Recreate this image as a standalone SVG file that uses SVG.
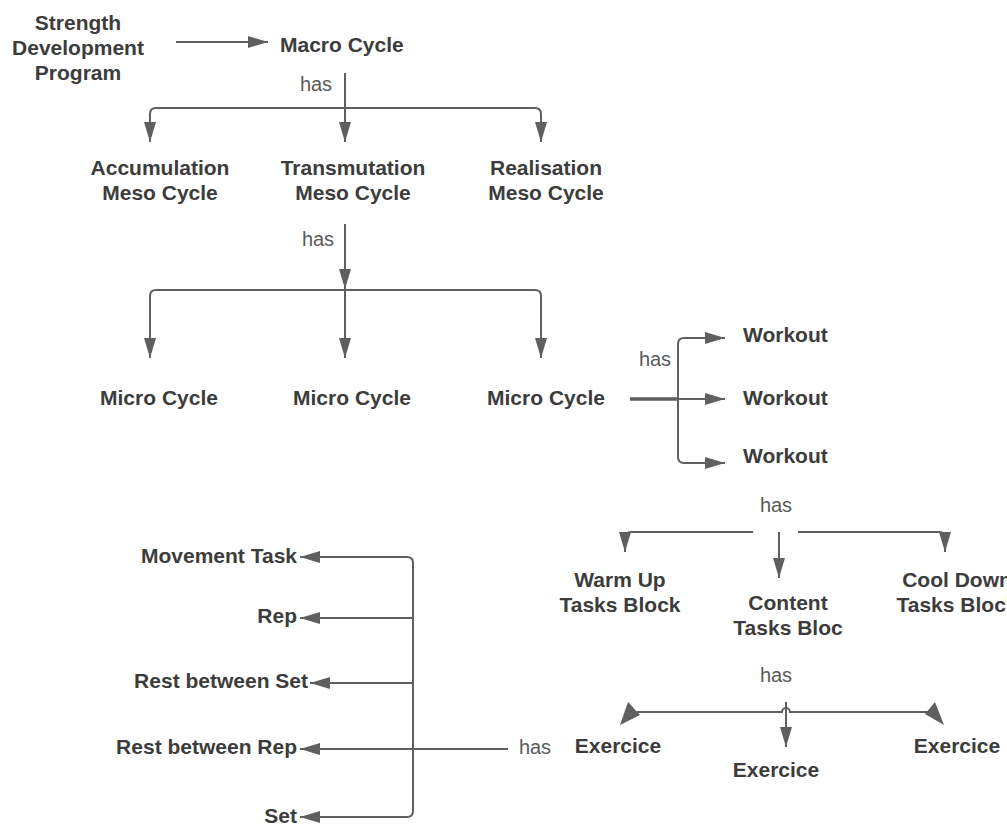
<svg xmlns="http://www.w3.org/2000/svg" width="1007" height="825" viewBox="0 0 1007 825">
<style>
.n{font-family:"Liberation Sans",Arial,sans-serif;font-weight:bold;font-size:21px;fill:#3c3c3c;text-anchor:middle}
.r{text-anchor:end}
.l{text-anchor:start}
.h{font-family:"Liberation Sans",Arial,sans-serif;font-size:20px;fill:#5a5a5a;text-anchor:middle}
.c{fill:none;stroke:#5f5f5f;stroke-width:2}
.a{marker-end:url(#ah)}
.tk{stroke-width:3.5}
</style>
<defs>
<marker id="ah" markerUnits="userSpaceOnUse" markerWidth="20" markerHeight="12" refX="20" refY="6" orient="auto">
<path d="M0,0 L20,6 L0,12 z" fill="#5f5f5f"/>
</marker>
</defs>
<rect width="1007" height="825" fill="#ffffff"/>
<g id="connectors">
<path class="c a" d="M176,42 H268"/>
<path class="c a" d="M345,73 V142"/>
<path class="c a" d="M345,108 H156 Q150,108 150,114 V142"/>
<path class="c a" d="M345,108 H535 Q541,108 541,114 V142"/>
<path class="c a" d="M345,224 V289"/>
<path class="c a" d="M345,290 V358"/>
<path class="c a" d="M345,290 H156 Q150,290 150,296 V358"/>
<path class="c a" d="M345,290 H535 Q541,290 541,296 V358"/>
<path class="c tk" d="M630,399 H678"/>
<path class="c a" d="M678,399 H725"/>
<path class="c a" d="M678,399 V344 Q678,338 684,338 H725"/>
<path class="c a" d="M678,399 V457 Q678,463 684,463 H725"/>
<path class="c a" d="M753,532 H631 Q625,532 625,538 V552"/>
<path class="c a" d="M779,532 V578"/>
<path class="c a" d="M798,532 H939 Q945,532 945,538 V552"/>
<path class="c" d="M637,712 H782 a4,4 0 0 1 8,0 H928"/>
<polygon points="628,702 640,715 620,725" fill="#5f5f5f"/>
<polygon points="935,702 925,714 944,725" fill="#5f5f5f"/>
<path class="c a" d="M786,702 V747"/>
<path class="c" d="M508,749 H413"/>
<path class="c" d="M413,563 V811"/>
<path class="c a" d="M413,563 Q413,557 407,557 H300"/>
<path class="c a" d="M413,618 H300"/>
<path class="c a" d="M413,683 H310"/>
<path class="c a" d="M413,749 H300"/>
<path class="c a" d="M413,811 Q413,817 407,817 H300"/>
</g>
<g id="labels">
<text class="h" x="316" y="91">has</text>
<text class="h" x="318" y="246">has</text>
<text class="h" x="655" y="366">has</text>
<text class="h" x="776" y="512">has</text>
<text class="h" x="776" y="682">has</text>
<text class="h" x="535" y="754">has</text>
</g>
<g id="strength"><text class="n" x="78" y="30">Strength</text><text class="n" x="78" y="55">Development</text><text class="n" x="78" y="80">Program</text></g>
<g id="macro"><text class="n l" x="280" y="52">Macro Cycle</text></g>
<g id="accumulation"><text class="n" x="160" y="175">Accumulation</text><text class="n" x="160" y="200">Meso Cycle</text></g>
<g id="transmutation"><text class="n" x="353" y="175">Transmutation</text><text class="n" x="353" y="200">Meso Cycle</text></g>
<g id="realisation"><text class="n" x="546" y="175">Realisation</text><text class="n" x="546" y="200">Meso Cycle</text></g>
<g id="micro1"><text class="n" x="159" y="405">Micro Cycle</text></g>
<g id="micro2"><text class="n" x="352" y="405">Micro Cycle</text></g>
<g id="micro3"><text class="n" x="546" y="405">Micro Cycle</text></g>
<g id="workout1"><text class="n l" x="743" y="342">Workout</text></g>
<g id="workout2"><text class="n l" x="743" y="405">Workout</text></g>
<g id="workout3"><text class="n l" x="743" y="463">Workout</text></g>
<g id="warmup"><text class="n" x="620" y="587">Warm Up</text><text class="n" x="620" y="612">Tasks Block</text></g>
<g id="content"><text class="n" x="788" y="610">Content</text><text class="n" x="788" y="635">Tasks Bloc</text></g>
<g id="cooldown"><text class="n" x="957" y="587">Cool Down</text><text class="n" x="957" y="612">Tasks Block</text></g>
<g id="exercice1"><text class="n" x="618" y="753">Exercice</text></g>
<g id="exercice2"><text class="n" x="776" y="777">Exercice</text></g>
<g id="exercice3"><text class="n" x="957" y="753">Exercice</text></g>
<g id="movement"><text class="n r" x="297" y="563">Movement Task</text></g>
<g id="rep"><text class="n r" x="297" y="623">Rep</text></g>
<g id="restset"><text class="n r" x="308" y="688">Rest between Set</text></g>
<g id="restrep"><text class="n r" x="297" y="754">Rest between Rep</text></g>
<g id="set"><text class="n r" x="297" y="823">Set</text></g>
</svg>
